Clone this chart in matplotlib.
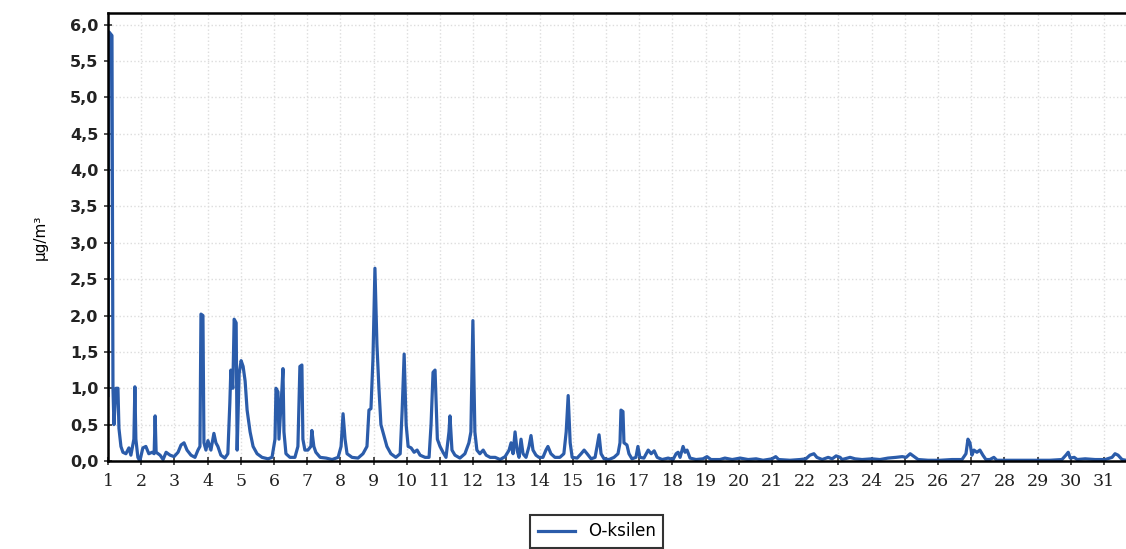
"""
O-ksilen concentration over one month
"""

import matplotlib as mpl
import matplotlib.pyplot as plt
from matplotlib.ticker import FuncFormatter, MultipleLocator

mpl.rcParams["font.family"] = ["DejaVu Sans"]

# day of month (fractional) and concentration in ug/m3
days = [
    1.00, 1.03, 1.12, 1.15, 1.18, 1.24, 1.30, 1.33, 1.39, 1.45, 1.54, 1.63,
    1.69, 1.78, 1.81, 1.84, 1.90, 1.96, 2.05, 2.14, 2.23, 2.33, 2.39, 2.42,
    2.45, 2.57, 2.66, 2.75, 2.87, 2.99, 3.11, 3.20, 3.29, 3.38, 3.50, 3.62,
    3.71, 3.77, 3.80, 3.86, 3.89, 3.95, 4.01, 4.10, 4.19, 4.25, 4.31, 4.40,
    4.52, 4.61, 4.67, 4.70, 4.76, 4.80, 4.86, 4.89, 4.95, 5.01, 5.07, 5.13,
    5.19, 5.28, 5.37, 5.49, 5.64, 5.82, 5.94, 6.03, 6.06, 6.12, 6.15, 6.24,
    6.27, 6.30, 6.36, 6.48, 6.63, 6.72, 6.78, 6.84, 6.87, 6.93, 7.02, 7.11,
    7.14, 7.20, 7.26, 7.39, 7.57, 7.75, 7.93, 8.02, 8.08, 8.14, 8.20, 8.35,
    8.53, 8.68, 8.80, 8.86, 8.92, 8.98, 9.04, 9.10, 9.16, 9.22, 9.31, 9.40,
    9.52, 9.67, 9.80, 9.86, 9.92, 9.98, 10.04, 10.13, 10.22, 10.31, 10.40,
    10.55, 10.67, 10.73, 10.79, 10.85, 10.92, 11.00, 11.09, 11.18, 11.27,
    11.30, 11.36, 11.45, 11.60, 11.75, 11.87, 11.93, 11.99, 12.05, 12.11,
    12.20, 12.30, 12.39, 12.51, 12.66, 12.81, 12.96, 13.08, 13.14, 13.20,
    13.26, 13.32, 13.38, 13.44, 13.50, 13.59, 13.68, 13.74, 13.80, 13.89,
    13.98, 14.10, 14.19, 14.25, 14.34, 14.46, 14.61, 14.73, 14.80, 14.86,
    14.92, 14.98, 15.13, 15.25, 15.34, 15.43, 15.55, 15.67, 15.73, 15.79,
    15.85, 15.94, 16.09, 16.24, 16.36, 16.42, 16.45, 16.51, 16.54, 16.63,
    16.69, 16.78, 16.90, 16.96, 17.02, 17.14, 17.27, 17.36, 17.45, 17.54,
    17.69, 17.87, 18.02, 18.11, 18.17, 18.23, 18.32, 18.38, 18.44, 18.53,
    18.71, 18.92, 19.04, 19.16, 19.43, 19.58, 19.80, 20.04, 20.28, 20.52,
    20.73, 21.00, 21.11, 21.20, 21.54, 21.84, 22.02, 22.14, 22.26, 22.35,
    22.51, 22.69, 22.81, 22.93, 23.05, 23.11, 23.35, 23.50, 23.71, 24.01,
    24.25, 24.49, 24.73, 24.92, 25.04, 25.16, 25.28, 25.40, 25.70, 26.06,
    26.42, 26.72, 26.84, 26.90, 26.96, 27.02, 27.08, 27.17, 27.26, 27.35,
    27.44, 27.56, 27.68, 27.77, 28.02, 28.47, 28.92, 29.37, 29.73, 29.85,
    29.92, 29.98, 30.10, 30.19, 30.43, 30.73, 31.03, 31.24, 31.33, 31.42,
    31.54, 31.66,
]

o_ksilen = [
    0.90, 5.90, 5.85, 1.00, 0.50, 1.00, 1.00, 0.45, 0.20, 0.12, 0.10, 0.18,
    0.08, 0.30, 1.02, 0.30, 0.05, 0.00, 0.18, 0.20, 0.10, 0.12, 0.10, 0.62,
    0.12, 0.08, 0.02, 0.12, 0.08, 0.06, 0.12, 0.22, 0.25, 0.15, 0.08, 0.05,
    0.15, 0.20, 2.02, 2.00, 0.25, 0.15, 0.28, 0.15, 0.38, 0.25, 0.20, 0.08,
    0.04, 0.10, 0.80, 1.25, 1.00, 1.95, 1.90, 0.15, 1.20, 1.38, 1.30, 1.10,
    0.70, 0.40, 0.20, 0.10, 0.05, 0.03, 0.05, 0.30, 1.00, 0.95, 0.30, 1.00,
    1.27, 0.40, 0.10, 0.05, 0.05, 0.20, 1.30, 1.32, 0.30, 0.15, 0.15, 0.20,
    0.42, 0.20, 0.12, 0.05, 0.04, 0.02, 0.05, 0.20, 0.65, 0.30, 0.10, 0.05,
    0.04, 0.10, 0.20, 0.70, 0.72, 1.40, 2.65, 1.60, 1.00, 0.50, 0.35, 0.20,
    0.10, 0.05, 0.10, 0.70, 1.47, 0.50, 0.20, 0.18, 0.12, 0.15, 0.08,
    0.05, 0.05, 0.50, 1.22, 1.25, 0.30, 0.20, 0.12, 0.05, 0.40,
    0.62, 0.15, 0.08, 0.04, 0.10, 0.25, 0.40, 1.93, 0.40, 0.15,
    0.10, 0.15, 0.08, 0.05, 0.05, 0.02, 0.06, 0.15, 0.25, 0.10,
    0.40, 0.15, 0.05, 0.30, 0.10, 0.05, 0.20, 0.35, 0.15, 0.08,
    0.05, 0.05, 0.15, 0.20, 0.10, 0.05, 0.05, 0.10, 0.40, 0.90,
    0.25, 0.05, 0.04, 0.10, 0.15, 0.10, 0.03, 0.05, 0.20, 0.36,
    0.10, 0.03, 0.02, 0.05, 0.10, 0.25, 0.70, 0.68, 0.25, 0.22,
    0.10, 0.03, 0.05, 0.20, 0.05, 0.04, 0.15, 0.10, 0.14, 0.05,
    0.02, 0.04, 0.02, 0.10, 0.12, 0.05, 0.20, 0.12, 0.15, 0.04,
    0.02, 0.03, 0.06, 0.02, 0.02, 0.04, 0.02, 0.04, 0.02, 0.03,
    0.01, 0.03, 0.06, 0.02, 0.01, 0.02, 0.03, 0.08, 0.10, 0.05,
    0.02, 0.05, 0.03, 0.07, 0.05, 0.02, 0.05, 0.03, 0.02, 0.03,
    0.02, 0.04, 0.05, 0.06, 0.05, 0.10, 0.06, 0.02, 0.01, 0.01,
    0.02, 0.02, 0.10, 0.30, 0.25, 0.08, 0.15, 0.12, 0.15, 0.08,
    0.02, 0.02, 0.05, 0.01, 0.01, 0.01, 0.01, 0.01, 0.02, 0.08,
    0.12, 0.04, 0.05, 0.02, 0.03, 0.02, 0.02, 0.05, 0.10, 0.08,
    0.02, 0.01,
]

day_ticks = list(range(1, 32))

line_color = "#2b5caa"

fig = plt.figure(figsize=(11.26, 5.49), dpi=100)
ax = fig.add_axes([0.0959, 0.1603, 0.9041, 0.816])

ax.plot(days, o_ksilen, color=line_color, linewidth=2.3, label="O-ksilen")

ax.set_xlim(1, 31.66)
ax.set_ylim(0, 6.16)

ax.set_xticks(day_ticks)
ax.yaxis.set_major_locator(MultipleLocator(0.5))
ax.yaxis.set_major_formatter(FuncFormatter(lambda v, p: f"{v:.1f}".replace(".", ",")))

ax.grid(True, color="#dddddd", linestyle=":", linewidth=1.0)
ax.set_axisbelow(True)

for side in ["left", "bottom", "top"]:
    ax.spines[side].set_linewidth(1.8)
    ax.spines[side].set_color("black")
ax.spines["right"].set_visible(False)

ax.tick_params(axis="both", direction="inout", length=6, width=1.2, color="#333333")
ax.tick_params(axis="y", pad=4)
ax.tick_params(axis="x", pad=6)

for lbl in ax.get_yticklabels():
    lbl.set_fontsize(11.5)
    lbl.set_fontweight("bold")
    lbl.set_color("#222222")
for lbl in ax.get_xticklabels():
    lbl.set_family("DejaVu Serif")
    lbl.set_fontsize(12.5)
    lbl.set_color("#222222")

ax.set_ylabel("µg/m³", fontsize=11, labelpad=16)

leg = fig.legend(loc="upper center", bbox_to_anchor=(0.530, 0.062), frameon=True,
                 fancybox=False, edgecolor="black", fontsize=12, handlelength=2.2,
                 borderpad=0.45, borderaxespad=0.0)
leg.get_frame().set_linewidth(1.5)

fig.savefig("out.png", dpi=100)
plt.close("all")
